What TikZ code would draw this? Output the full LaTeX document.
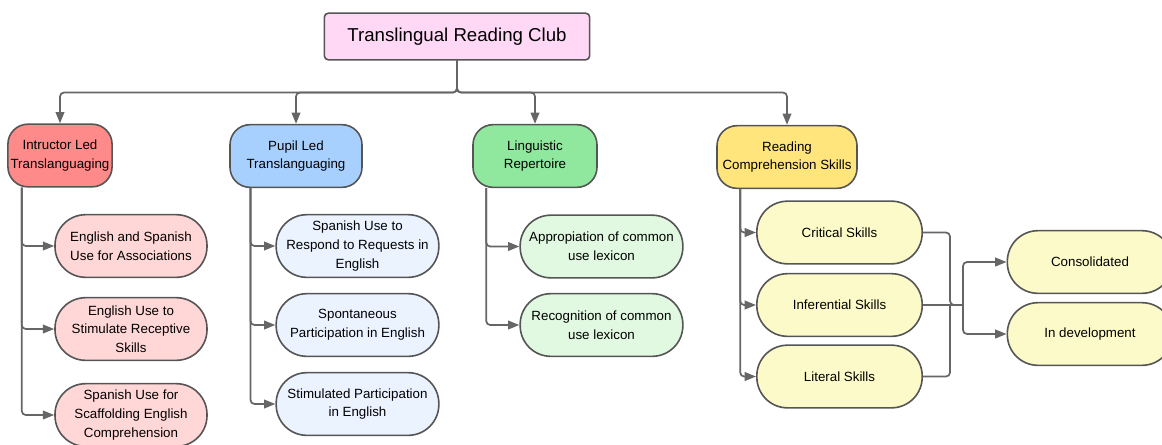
\documentclass[tikz,border=0pt]{standalone}
\usepackage{fontspec}
\setmainfont{Liberation Sans}
\usetikzlibrary{arrows.meta}

\definecolor{bordergray}{HTML}{555555}
\definecolor{linegray}{HTML}{666666}
\definecolor{titlepink}{HTML}{FFD8F6}
\definecolor{instred}{HTML}{FF8A8A}
\definecolor{instlight}{HTML}{FFD7D7}
\definecolor{pupilblue}{HTML}{A8D0FF}
\definecolor{pupillight}{HTML}{EAF3FF}
\definecolor{linggreen}{HTML}{90E89E}
\definecolor{linglight}{HTML}{E1F8E1}
\definecolor{readyellow}{HTML}{FFE57C}
\definecolor{readlight}{HTML}{FCFAC8}

\begin{document}
\begin{tikzpicture}[x=0.75pt,y=-0.75pt,
    every node/.style={draw=bordergray,line width=1.2pt,align=center,inner sep=2pt,
                       font=\fontsize{10}{14}\selectfont},
    topic/.style={rounded corners=15pt,minimum height=47pt},
    leaf/.style={rounded corners=23pt,minimum height=47pt},
    link/.style={draw=linegray,line width=1.3pt,rounded corners=3pt},
    arr/.style={link,-{Triangle[length=8.5pt,width=6.5pt]}}]

    \useasboundingbox (0,0) rectangle (1162,444);

    \node[fill=titlepink,rounded corners=3pt,minimum width=199pt,minimum height=35pt,
          font=\fontsize{14}{16}\selectfont] (club) at (457,36.5) {Translingual Reading Club};

    \node[topic,fill=instred,minimum width=76pt] (inst) at (60,155.5) {Intructor Led\\Translanguaging};
    \node[topic,fill=pupilblue,minimum width=99pt] (pupil) at (296,156) {Pupil Led\\Translanguaging};
    \node[topic,fill=linggreen,minimum width=93pt] (ling) at (535,156) {Linguistic\\Repertoire};
    \node[topic,fill=readyellow,minimum width=105pt] (read) at (787,157) {Reading\\Comprehension Skills};

    \node[leaf,fill=instlight,minimum width=114pt] (i1) at (131,246) {English and Spanish\\Use for Associations};
    \node[leaf,fill=instlight,minimum width=114pt] (i2) at (131,329) {English Use to\\Stimulate Receptive\\Skills};
    \node[leaf,fill=instlight,minimum width=114pt] (i3) at (131,415) {Spanish Use for\\Scaffolding English\\Comprehension};

    \node[leaf,fill=pupillight,minimum width=122pt] (p1) at (357.5,246) {Spanish Use to\\Respond to Requests in\\English};
    \node[leaf,fill=pupillight,minimum width=122pt] (p2) at (357.5,325) {Spontaneous\\Participation in English};
    \node[leaf,fill=pupillight,minimum width=122pt] (p3) at (357.5,404) {Stimulated Participation\\in English};

    \node[leaf,fill=linglight,minimum width=122pt] (l1) at (601.5,246.5) {Appropiation of common\\use lexicon};
    \node[leaf,fill=linglight,minimum width=122pt] (l2) at (601.5,325) {Recognition of common\\use lexicon};

    \node[leaf,fill=readlight,minimum width=124pt] (r1) at (839.5,232.5) {Critical Skills};
    \node[leaf,fill=readlight,minimum width=124pt] (r2) at (839.5,305) {Inferential Skills};
    \node[leaf,fill=readlight,minimum width=124pt] (r3) at (839.5,376.5) {Literal Skills};

    \node[leaf,fill=readlight,minimum width=124pt] (o1) at (1090,262) {Consolidated};
    \node[leaf,fill=readlight,minimum width=124pt] (o2) at (1090,334) {In development};

    \coordinate (hub) at (457,92.5);
    \coordinate (bend) at (950,305);
    \coordinate (join) at (963,305);

    % top level
    \draw[arr] (club.south) -- (hub) -| (inst.north);
    \draw[arr] (club.south) -- (hub) -| (pupil.north);
    \draw[arr] (club.south) -- (hub) -| (ling.north);
    \draw[arr] (club.south) -- (hub) -| (read.north);

    % columns
    \draw[arr] ([xshift=11pt]inst.south west) |- (i1.west);
    \draw[arr] ([xshift=11pt]inst.south west) |- (i2.west);
    \draw[arr] ([xshift=11pt]inst.south west) |- (i3.west);
    \draw[arr] ([xshift=16pt]pupil.south west) |- (p1.west);
    \draw[arr] ([xshift=16pt]pupil.south west) |- (p2.west);
    \draw[arr] ([xshift=16pt]pupil.south west) |- (p3.west);
    \draw[arr] ([xshift=10.5pt]ling.south west) |- (l1.west);
    \draw[arr] ([xshift=10.5pt]ling.south west) |- (l2.west);
    \draw[arr] ([xshift=18pt]read.south west) |- (r1.west);
    \draw[arr] ([xshift=18pt]read.south west) |- (r2.west);
    \draw[arr] ([xshift=18pt]read.south west) |- (r3.west);

    % skills to outcomes
    \draw[link] (r1.east) -| (bend) -- (join);
    \draw[link] (r3.east) -| (bend);
    \draw[link] (r2.east) -- (join);
    \draw[arr] (join) |- (o1.west);
    \draw[arr] (join) |- (o2.west);
\end{tikzpicture}
\end{document}
